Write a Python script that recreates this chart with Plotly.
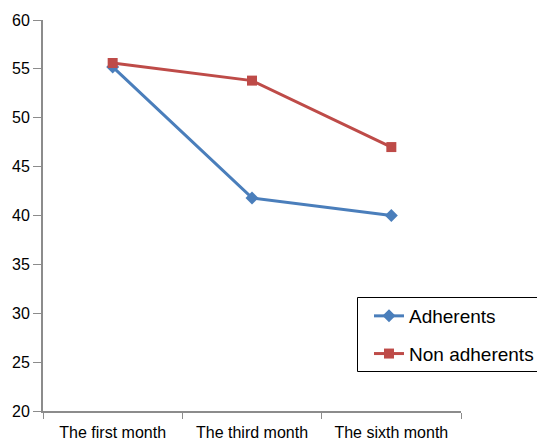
import plotly.graph_objects as go

# Measurement periods and mean scores per group
months = ["The first month", "The third month", "The sixth month"]
adherents = [55.2, 41.8, 40.0]
non_adherents = [55.6, 53.8, 47.0]

y_ticks = [20, 25, 30, 35, 40, 45, 50, 55, 60]

BLUE = "#4A7EBB"
RED = "#BE4B48"
AXIS = "#8C8C8C"
FONT = "Liberation Sans, Arial, sans-serif"

fig = go.Figure()
fig.add_trace(go.Scatter(
    x=months, y=adherents, name="Adherents", mode="lines+markers",
    line=dict(color=BLUE, width=3),
    marker=dict(symbol="diamond", size=10, color=BLUE),
    legendgroup="a",
))
fig.add_trace(go.Scatter(
    x=months, y=non_adherents, name="Non adherents", mode="lines+markers",
    line=dict(color=RED, width=3),
    marker=dict(symbol="square", size=10, color=RED),
    legendgroup="b",
))

W, H = 537, 440
L, R, T, B = 43, 76, 20, 29
pw, ph = W - L - R, H - T - B

def px_x(p):
    return (p - L) / pw

def px_y(p):
    return (H - B - p) / ph

# Legend frame
fig.add_shape(
    type="rect", xref="paper", yref="paper",
    x0=px_x(357.5), x1=px_x(545), y0=px_y(371.5), y1=px_y(297.5),
    line=dict(color="black", width=1), fillcolor="rgba(0,0,0,0)",
)

fig.update_layout(
    width=W, height=H,
    margin=dict(l=L, r=R, t=T, b=B, autoexpand=False),
    paper_bgcolor="white", plot_bgcolor="white",
    font=dict(family=FONT, color="black", size=16),
    showlegend=True,
    legend=dict(
        x=px_x(369), y=px_y(297), xanchor="left", yanchor="top",
        font=dict(family=FONT, size=19, color="black"),
        bgcolor="rgba(0,0,0,0)", borderwidth=0,
        tracegroupgap=10,
    ),
    xaxis=dict(
        type="category", tickson="boundaries",
        range=[-0.5, 2.5], automargin=False,
        showline=True, linecolor=AXIS, linewidth=2,
        ticks="outside", ticklen=6, tickcolor=AXIS, tickwidth=1,
        ticklabelstandoff=6,
        showgrid=False, zeroline=False,
        tickfont=dict(family=FONT, size=16, color="black"),
    ),
    yaxis=dict(
        range=[20, 60], tickvals=y_ticks, automargin=False,
        showline=True, linecolor=AXIS, linewidth=2,
        ticks="outside", ticklen=8, tickcolor=AXIS, tickwidth=1,
        showgrid=False, zeroline=False,
        tickfont=dict(family=FONT, size=16, color="black"),
    ),
)

fig.write_html("out.html")
